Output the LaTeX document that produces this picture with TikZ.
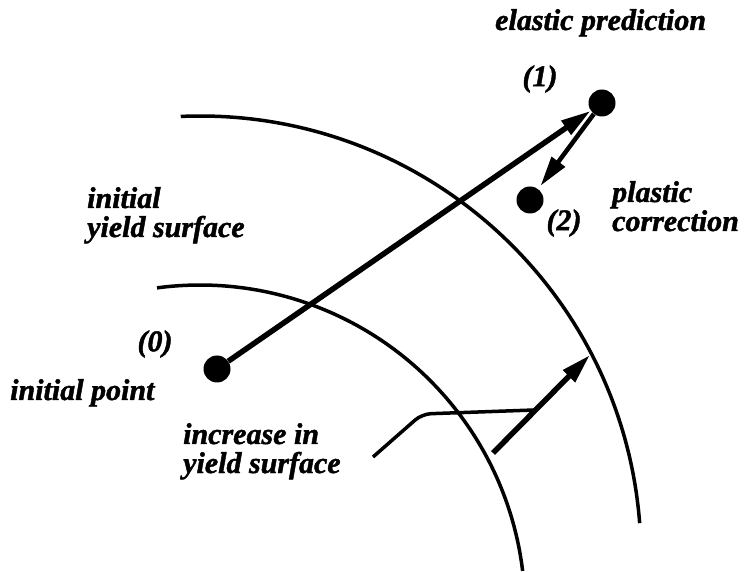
\documentclass[tikz,border=0pt]{standalone}
\usepackage{fontspec}
\setmainfont{Liberation Serif}[
  BoldFont={Liberation Serif Bold},
  ItalicFont={Liberation Serif Italic},
  BoldItalicFont={Liberation Serif Bold Italic},
  BoldItalicFeatures={FakeBold=1.5}]
\usepackage{tikz}
\usetikzlibrary{positioning,arrows.meta,calc}

\begin{document}
\begin{tikzpicture}[
  x=1pt, y=1pt,
  dot/.style={circle,fill,inner sep=0pt,minimum size=27pt},
  lbl/.style={font=\fontsize{30}{29}\selectfont\bfseries\itshape,inner sep=0pt,align=left},
  surface/.style={line width=3.5pt},
  vec/.style={line width=5.5pt,-{Triangle[length=30pt,width=16pt]}},
  leader/.style={line width=3.5pt,rounded corners=9pt}
]
\useasboundingbox (0,0) rectangle (753,571);

% yield surfaces (centres below the picture)
\coordinate (outerc) at (200,14);
\coordinate (innerc) at (200,-39);
\draw[surface] (outerc) ++(92.5:441) arc[start angle=92.5,end angle=4.4,radius=441];
\draw[surface] (innerc) ++(97.6:325) arc[start angle=97.6,end angle=6.9,radius=325];

% stress points
\node[dot] (p0) at (217,202) {};
\node[dot] (p1) at (602,468) {};
\node[dot] (p2) at (530,371) {};

\draw[vec] (p0) -- (p1);
\draw[vec,line width=4.5pt,shorten >=4pt] (p1) -- (p2);

% growth of the surface
\coordinate (inc0) at (493,118);
\coordinate (inc1) at (590,216);
\draw[vec] (inc0) -- (inc1);
\coordinate (lead0) at (373,114);
\coordinate (lead1) at (422,157);
\coordinate (lead2) at (534,161);
\draw[leader] (lead0) -- (lead1) -- (lead2);

% labels
\node[lbl,anchor=base west] (elastic) at (495,541) {elastic prediction};
\node[lbl] (n1) at (540,492) {(1)};
\node[lbl] (n2) at (564,348) {(2)};
\node[lbl] (n0) at (155,227) {(0)};
\node[lbl,anchor=base west] (plastic) at (612,340) {plastic\\correction};
\node[lbl,anchor=base west] (initys) at (87,334) {initial\\yield surface};
\node[lbl,anchor=base west] (initpt) at (10,171) {initial point};
\node[lbl,anchor=base west] (incys) at (183,98) {increase in\\yield surface};
\end{tikzpicture}
\end{document}
